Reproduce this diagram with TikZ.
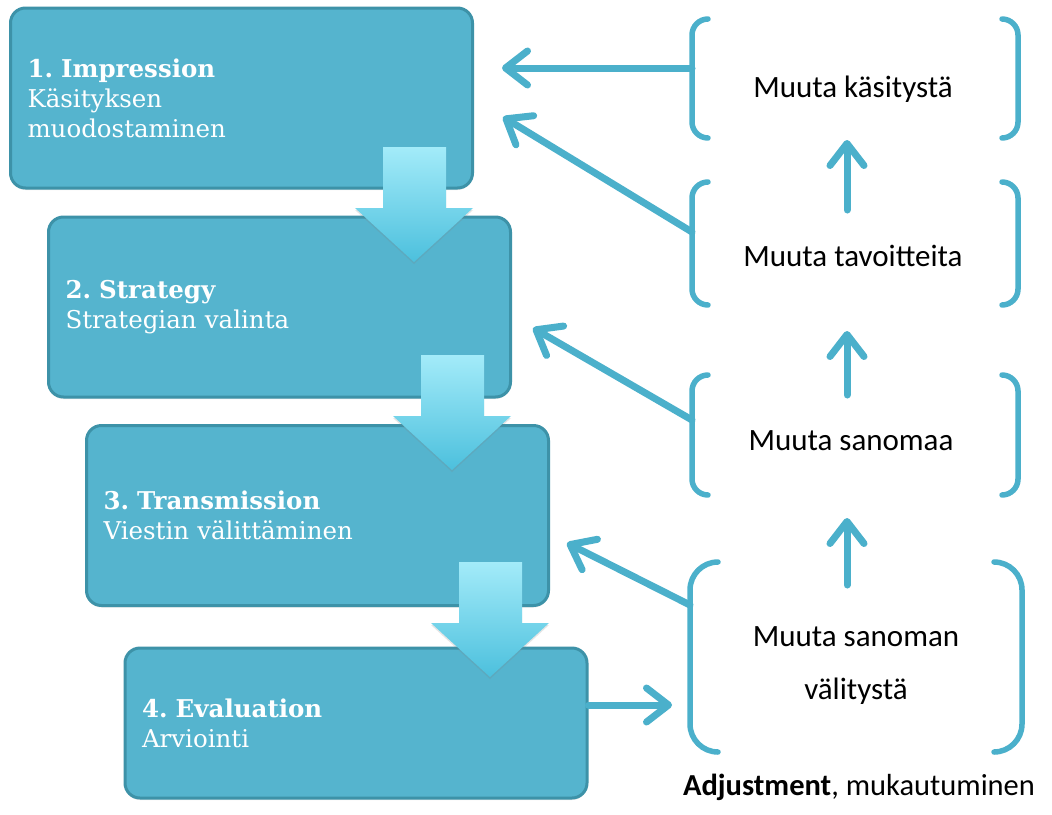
\documentclass[tikz,border=0pt]{standalone}
\usepackage{fontspec}
\setmainfont{DejaVu Serif}
\newfontfamily\carlito{Carlito}
\usetikzlibrary{arrows.meta,shadows}
\definecolor{boxfill}{HTML}{55B4CE}
\definecolor{boxline}{HTML}{3D92A8}
\definecolor{conncol}{HTML}{4BB0CB}
\definecolor{arrtop}{HTML}{A3EBF9}
\definecolor{arrbot}{HTML}{4CC0DD}
\newcommand\adjbracket[2]{%
  \draw[brk,rounded corners=#2] ([xshift=#2]#1.north west) -- (#1.north west) -- (#1.south west) -- ([xshift=#2]#1.south west);
  \draw[brk,rounded corners=#2] ([xshift=-#2]#1.north east) -- (#1.north east) -- (#1.south east) -- ([xshift=-#2]#1.south east);}
\frenchspacing
\begin{document}
\begin{tikzpicture}[x=1pt,y=-1pt,
  stage/.style={draw=boxline,line width=3pt,fill=boxfill,rounded corners=15pt,
    minimum width=462pt,minimum height=180pt,text width=428pt,align=left,
    inner xsep=17pt,text=white,font=\fontsize{24.5}{30}\selectfont,
    drop shadow={opacity=0.18,shadow xshift=0pt,shadow yshift=-2pt}},
  bnode/.style={inner sep=0pt,outer sep=0pt,draw=none},
  brk/.style={draw=conncol,line width=5.5pt,line cap=round},
  lbl/.style={font=\carlito\fontsize{31}{53}\selectfont,text=black,align=center},
  connarrow/.style={draw=conncol,line width=7pt,line cap=round,
    -{Straight Barb[length=22pt,width=34pt,line cap=round,line join=round]}},
  blockarr/.pic={
    \shade[top color=arrtop,bottom color=arrbot,
      drop shadow={opacity=0.2,shadow xshift=0pt,shadow yshift=-2pt}]
      (-31,-115) -- (32,-115) -- (32,-54) -- (59,-54) -- (0,0) -- (-59,-54) -- (-31,-54) -- cycle;}
]
\useasboundingbox[fill=white] (0,0) rectangle (1052,814);

% stages
\node[stage] (s1) at (241.5,98) {\textbf{1. Impression}\\Käsityksen\\muodostaminen};
\node[stage] (s2) at (279.5,307) {\textbf{2. Strategy}\\Strategian valinta};
\node[stage] (s3) at (317.5,515.5) {\textbf{3. Transmission}\\Viestin välittäminen};
\node[stage,minimum height=150pt] (s4) at (356,723) {\textbf{4. Evaluation}\\Arviointi};

% block arrows between stages
\pic at (414,262) {blockarr};
\pic at (452,470) {blockarr};
\pic at (490,677) {blockarr};

% adjustment brackets
\node[bnode,minimum width=326pt,minimum height=119pt] (b1) at (855,78.5) {};
\node[bnode,minimum width=326pt,minimum height=123pt] (b2) at (855,243.5) {};
\node[bnode,minimum width=326pt,minimum height=120pt] (b3) at (855,435) {};
\node[bnode,minimum width=332pt,minimum height=190pt] (b4) at (856,657) {};
\adjbracket{b1}{16pt}
\adjbracket{b2}{16pt}
\adjbracket{b3}{16pt}
\adjbracket{b4}{28pt}

\node[lbl] (t1) at (853,89) {Muuta käsitystä};
\node[lbl] (t2) at (853,256) {Muuta tavoitteita};
\node[lbl] (t3) at (851,441) {Muuta sanomaa};
\node[lbl] (t4) at (856,666) {Muuta sanoman\\välitystä};
\node[lbl,font=\carlito\fontsize{30.5}{36}\selectfont] (adj) at (859,787) {\textbf{Adjustment}, mukautuminen};

% feedback arrows
\coordinate (h1) at (502,68);
\coordinate (h2) at (503,117);
\coordinate (h3) at (533,328);
\coordinate (h4) at (567,543);
\coordinate (h5) at (672,705);
\draw[connarrow] (b1.west |- h1) -- (h1);
\draw[connarrow] (b2.west |- 0,232) -- (h2);
\draw[connarrow] (b3.west |- 0,420) -- (h3);
\draw[connarrow] (b4.west |- 0,605) -- (h4);
\draw[connarrow] (s4.east |- h5) -- (h5);

% upward arrows
\coordinate (u2) at (847,210); \coordinate (v1) at (847,140);
\coordinate (u3) at (847,395); \coordinate (v2) at (847,331);
\coordinate (u4) at (847,585); \coordinate (v3) at (847,518);
\draw[connarrow] (u2) -- (v1);
\draw[connarrow] (u3) -- (v2);
\draw[connarrow] (u4) -- (v3);
\end{tikzpicture}
\end{document}
